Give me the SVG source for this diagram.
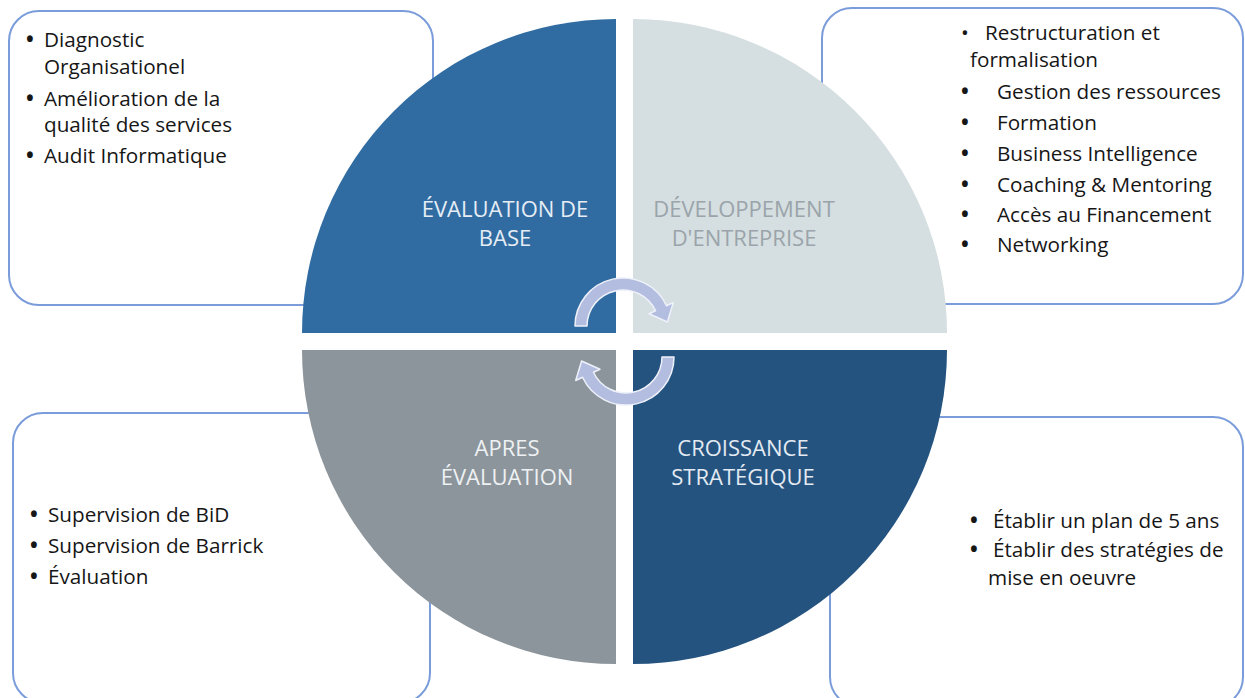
<svg xmlns="http://www.w3.org/2000/svg" width="1245" height="698" viewBox="0 0 1245 698">
<style>
.box{fill:#ffffff;stroke:#7b9cdb;stroke-width:2}
.item{font-family:"Open Sans","Liberation Sans",sans-serif;font-size:20.7px;fill:#161616}
.b{font-weight:bold}
.lab{font-family:"Open Sans","Liberation Sans",sans-serif;font-size:22px;text-anchor:middle}
.arrow{fill:#b3bde0;stroke:#eef1fa;stroke-width:1.5;stroke-linejoin:round}
</style>
<defs>
<path id="cyc" class="arrow" d="M575,326 A48,48 0 0 1 666.5,305.7 L673.3,302.5 L667.4,322 L649,313.8 L655.6,310.8 A36,36 0 0 0 587,326 Z"/>
</defs>
<rect width="1245" height="698" fill="#ffffff"/>
<g id="box-tl">
<rect class="box" x="9" y="11" width="424" height="294" rx="30"/>
<text class="item"><tspan class="b" x="26" y="47">•</tspan><tspan x="44" y="47">Diagnostic</tspan><tspan x="44" y="74">Organisationel</tspan><tspan class="b" x="26" y="106">•</tspan><tspan x="44" y="106">Amélioration de la</tspan><tspan x="44" y="132">qualité des services</tspan><tspan class="b" x="26" y="163">•</tspan><tspan x="44" y="163">Audit Informatique</tspan></text>
</g>
<g id="box-tr">
<rect class="box" x="822" y="8" width="421" height="296" rx="30"/>
<text class="item"><tspan x="961" y="40">•</tspan><tspan x="985" y="40">Restructuration et</tspan><tspan x="970" y="67">formalisation</tspan><tspan class="b" x="961" y="99">•</tspan><tspan x="997" y="99">Gestion des ressources</tspan><tspan class="b" x="961" y="130">•</tspan><tspan x="997" y="130">Formation</tspan><tspan class="b" x="961" y="161">•</tspan><tspan x="997" y="161">Business Intelligence</tspan><tspan class="b" x="961" y="192">•</tspan><tspan x="997" y="192">Coaching &amp; Mentoring</tspan><tspan class="b" x="961" y="222">•</tspan><tspan x="997" y="222">Accès au Financement</tspan><tspan class="b" x="961" y="252">•</tspan><tspan x="997" y="252">Networking</tspan></text>
</g>
<g id="box-bl">
<rect class="box" x="13" y="413" width="417" height="290" rx="30"/>
<text class="item"><tspan class="b" x="30" y="522">•</tspan><tspan x="48" y="522">Supervision de BiD</tspan><tspan class="b" x="30" y="553">•</tspan><tspan x="48" y="553">Supervision de Barrick</tspan><tspan class="b" x="30" y="584">•</tspan><tspan x="48" y="584">Évaluation</tspan></text>
</g>
<g id="box-br">
<rect class="box" x="830" y="417" width="413" height="290" rx="30"/>
<text class="item"><tspan class="b" x="970" y="528">•</tspan><tspan x="993" y="528">Établir un plan de 5 ans</tspan><tspan class="b" x="970" y="557">•</tspan><tspan x="993" y="557">Établir des stratégies de</tspan><tspan x="988" y="585">mise en oeuvre</tspan></text>
</g>
<g id="q-evaluation-base">
<path d="M616,333 L302,333 A314,314 0 0 1 616,19 Z" fill="#306ca2"/>
<text class="lab" fill="#e6edf5"><tspan x="505" y="217">ÉVALUATION DE</tspan><tspan x="505" y="246">BASE</tspan></text>
</g>
<g id="q-developpement">
<path d="M633,333 L633,19 A314,314 0 0 1 947,333 Z" fill="#d5dee0"/>
<text class="lab" fill="#9aa4aa"><tspan x="744" y="217">DÉVELOPPEMENT</tspan><tspan x="744" y="246">D'ENTREPRISE</tspan></text>
</g>
<g id="q-apres">
<path d="M616,350 L616,664 A314,314 0 0 1 302,350 Z" fill="#8c959b"/>
<text class="lab" fill="#eef1f3"><tspan x="507" y="456">APRES</tspan><tspan x="507" y="485">ÉVALUATION</tspan></text>
</g>
<g id="q-croissance">
<path d="M633,350 L947,350 A314,314 0 0 1 633,664 Z" fill="#24537f"/>
<text class="lab" fill="#e3eaf2"><tspan x="743" y="456">CROISSANCE</tspan><tspan x="743" y="485">STRATÉGIQUE</tspan></text>
</g>
<g id="connectors">
<use href="#cyc"/>
<use href="#cyc" transform="rotate(180 624.5 341.5)"/>
</g>
</svg>
